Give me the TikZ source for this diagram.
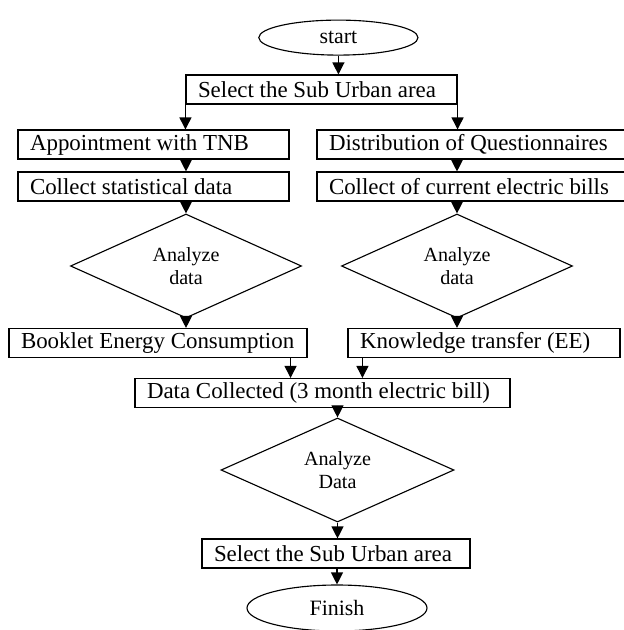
\documentclass[tikz,border=0pt]{standalone}
\usepackage{fontspec}
\setmainfont{Liberation Serif}
\usepackage{tikz}
\usetikzlibrary{positioning}
\usetikzlibrary{shapes.geometric,arrows.meta}

\begin{document}
\begin{tikzpicture}
               [box/.style = {draw, line width=0.8pt, minimum height=0.725cm, inner xsep=0.3cm, inner ysep=0pt, align=flush left, font=\fontsize{16.3}{19}\selectfont},
                term/.style = {ellipse, draw, line width=0.8pt, inner sep=0pt, font=\fontsize{15.6}{18}\selectfont},
                dia/.style = {diamond, draw, line width=0.8pt, inner sep=0pt, minimum width=5.775cm, minimum height=2.45cm, align=center, font=\fontsize{14.3}{16.3}\selectfont},
                arr/.style = {line width=0.8pt, -{Triangle[length=0.3cm, width=0.3cm]}}]
                \useasboundingbox (0,0) rectangle (15.6,-15.75);
                % Start and first selection
                \node[term, minimum width=3.98cm, minimum height=0.875cm] (start) at (8.46,-0.94) {start};
                \node[box, text width=6.175cm] (sel) at (8.0375,-2.2375) {Select the Sub Urban area};
                % Left branch (TNB)
                \node[box, text width=6.175cm] (appt) at (3.8375,-3.6125) {Appointment with TNB};
                \node[box, text width=6.175cm] (stat) at (3.8375,-4.6625) {Collect statistical data};
                \node[dia] (dl) at (4.65,-6.65) {Analyze\\data};
                \node[box, text width=6.85cm] (book) at (3.95,-8.575) {Booklet Energy Consumption};
                % Right branch (questionnaires)
                \node[box, text width=7.1cm] (quest) at (11.775,-3.6125) {Distribution of Questionnaires};
                \node[box, text width=7.1cm] (bill) at (11.775,-4.6625) {Collect of current electric bills};
                \node[dia] (dr) at (11.425,-6.65) {Analyze\\data};
                \node[box, text width=6.2cm] (know) at (12.1,-8.575) {Knowledge transfer (EE)};
                % Merge and finish
                \node[box, text width=8.775cm] (coll) at (8.0625,-9.825) {Data Collected (3 month electric bill)};
                \node[dia, minimum width=5.825cm, minimum height=2.4cm] (dd) at (8.4375,-11.75) {Analyze\\Data};
                \node[box, text width=6.1cm] (sel2) at (8.4,-13.8375) {Select the Sub Urban area};
                \node[term, minimum width=4.5cm, minimum height=1.15cm] (fin) at (8.425,-15.2) {Finish};
                % Arrows
                \draw[arr] (start) -- (start |- sel.north);
                \draw[arr] (sel.south west) -- (sel.south west |- appt.north);
                \draw[arr] (sel.south east) -- (sel.south east |- quest.north);
                \draw[arr] (dl |- appt.south) -- (dl |- stat.north);
                \draw[arr] (dl |- stat.south) -- (dl.north);
                \draw[arr] (dl.south) -- (dl |- book.north);
                \draw[arr] (dr |- quest.south) -- (dr |- bill.north);
                \draw[arr] (dr |- bill.south) -- (dr.north);
                \draw[arr] (dr.south) -- (dr |- know.north);
                \draw[arr] ([xshift=-0.425cm]book.south east) -- ([xshift=-0.425cm]book.south east |- coll.north);
                \draw[arr] ([xshift=0.375cm]know.south west) -- ([xshift=0.375cm]know.south west |- coll.north);
                \draw[arr] (dd |- coll.south) -- (dd.north);
                \draw[arr] (dd.south) -- (dd |- sel2.north);
                \draw[arr] (sel2.south -| fin) -- (fin.north);
            \end{tikzpicture}
\end{document}
